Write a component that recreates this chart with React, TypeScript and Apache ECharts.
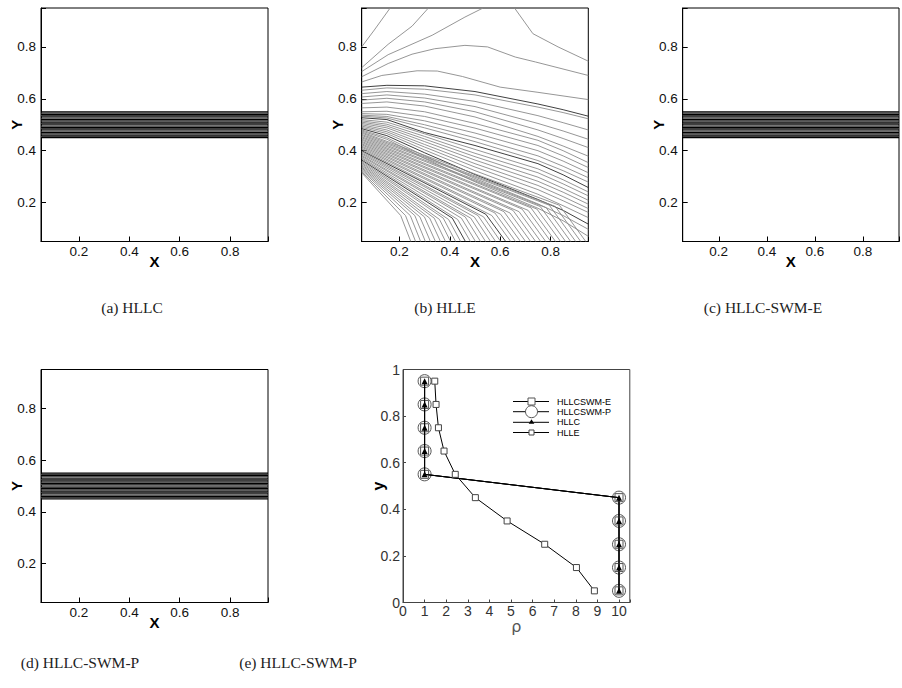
import { useEffect, useRef } from 'react';
import * as echarts from 'echarts';

// ---- data -------------------------------------------------------------

// tick labels of the unit-square contour panels
const unitTicks = [0.2, 0.4, 0.6, 0.8];

// density contour levels across the shear layer (HLLC, HLLC-SWM-E, HLLC-SWM-P)
const bandLevels = [
  0.45, 0.455, 0.46, 0.465, 0.47, 0.475, 0.48, 0.485, 0.49, 0.495, 0.5,
  0.505, 0.51, 0.515, 0.52, 0.525, 0.53, 0.535, 0.54, 0.545, 0.55,
];

// HLLE contours, upper family: explicit polylines [x, y]
const hlleUpper = [
  [[0.05, 0.8], [0.1, 0.865], [0.163, 0.95]],
  [[0.05, 0.72], [0.155, 0.81], [0.25, 0.88], [0.315, 0.95]],
  [[0.05, 0.705], [0.155, 0.77], [0.33, 0.845], [0.46, 0.915], [0.532, 0.95]],
  [[0.657, 0.95], [0.73, 0.851], [0.83, 0.8], [0.95, 0.745]],
  [[0.05, 0.685], [0.155, 0.736], [0.25, 0.772], [0.34, 0.793], [0.46, 0.806], [0.55, 0.8], [0.66, 0.761], [0.74, 0.742], [0.95, 0.69]],
  [[0.05, 0.665], [0.13, 0.69], [0.27, 0.708], [0.35, 0.707], [0.45, 0.686], [0.6, 0.645], [0.75, 0.625], [0.95, 0.597]],
];

// HLLE contours crossing the whole width: y sampled at hlleMidX
const hlleMidX = [0.05, 0.15, 0.3, 0.5, 0.75, 0.85, 0.95];
const hlleMidY = [
  [0.645, 0.652, 0.65, 0.628, 0.58, 0.558, 0.533],
  [0.633, 0.642, 0.637, 0.615, 0.568, 0.547, 0.523],
  [0.62, 0.628, 0.618, 0.59, 0.535, 0.508, 0.48],
  [0.607, 0.615, 0.603, 0.57, 0.505, 0.476, 0.444],
  [0.595, 0.602, 0.588, 0.55, 0.48, 0.447, 0.412],
  [0.582, 0.588, 0.572, 0.53, 0.455, 0.418, 0.379],
  [0.565, 0.568, 0.55, 0.505, 0.44, 0.4, 0.354],
  [0.55, 0.552, 0.532, 0.487, 0.42, 0.38, 0.335],
  [0.543, 0.54, 0.515, 0.468, 0.4, 0.36, 0.315],
  [0.537, 0.532, 0.5, 0.45, 0.38, 0.34, 0.296],
  [0.533, 0.526, 0.488, 0.435, 0.362, 0.323, 0.279],
  [0.527, 0.52, 0.47, 0.42, 0.35, 0.307, 0.258],
  [0.52, 0.51, 0.465, 0.405, 0.33, 0.288, 0.241],
  [0.515, 0.502, 0.455, 0.39, 0.315, 0.272, 0.226],
  [0.51, 0.495, 0.445, 0.377, 0.298, 0.255, 0.209],
  [0.505, 0.488, 0.435, 0.364, 0.282, 0.24, 0.194],
  [0.5, 0.48, 0.424, 0.35, 0.266, 0.223, 0.177],
  [0.495, 0.473, 0.414, 0.337, 0.25, 0.207, 0.162],
  [0.49, 0.466, 0.403, 0.323, 0.232, 0.188, 0.142],
  [0.485, 0.458, 0.392, 0.308, 0.212, 0.17, 0.117],
  [0.48, 0.45, 0.38, 0.293, 0.195, 0.15, 0.097],
  [0.476, 0.444, 0.37, 0.28, 0.178, 0.13, 0.07],
];

// HLLE contours fanning down to the bottom edge: start on the left edge,
// steepen at a kink point, end on the bottom edge
const hlleFanStartY = [
  0.472, 0.468, 0.463, 0.459, 0.454, 0.45, 0.445, 0.441, 0.436, 0.432, 0.427, 0.423,
  0.418, 0.414, 0.409, 0.405, 0.4, 0.396, 0.391, 0.387, 0.382, 0.378, 0.373, 0.369,
  0.364, 0.36, 0.355, 0.351, 0.346, 0.342, 0.337, 0.333, 0.328, 0.324, 0.319, 0.315,
];
const hlleFanKinkX = [
  0.835, 0.819, 0.795, 0.783, 0.759, 0.746, 0.722, 0.711, 0.687, 0.675, 0.651, 0.639,
  0.615, 0.602, 0.579, 0.567, 0.543, 0.534, 0.512, 0.497, 0.483, 0.461, 0.446, 0.431,
  0.41, 0.395, 0.374, 0.359, 0.338, 0.32, 0.299, 0.281, 0.261, 0.243, 0.224, 0.205,
];
const hlleFanKinkY = [
  0.19, 0.185, 0.19, 0.18, 0.185, 0.175, 0.18, 0.17, 0.175, 0.165, 0.17, 0.16,
  0.165, 0.155, 0.16, 0.15, 0.155, 0.145, 0.15, 0.145, 0.14, 0.145, 0.14, 0.135,
  0.14, 0.135, 0.14, 0.135, 0.14, 0.14, 0.145, 0.145, 0.15, 0.15, 0.15, 0.15,
];
const hlleFanBottomX = [
  0.94, 0.92, 0.9, 0.88, 0.86, 0.84, 0.82, 0.801, 0.781, 0.761, 0.741, 0.721,
  0.701, 0.681, 0.661, 0.642, 0.622, 0.602, 0.582, 0.562, 0.542, 0.522, 0.502, 0.482,
  0.462, 0.443, 0.423, 0.403, 0.383, 0.363, 0.343, 0.323, 0.303, 0.284, 0.264, 0.245,
];

// density profile along y (panel e)
const profileY = [0.05, 0.15, 0.25, 0.35, 0.45, 0.55, 0.65, 0.75, 0.85, 0.95];
const rhoSwmE = [10, 10, 10, 10, 10, 1, 1, 1, 1, 1];
const rhoSwmP = [10, 10, 10, 10, 10, 1, 1, 1, 1, 1];
const rhoHllc = [10, 10, 10, 10, 10, 1, 1, 1, 1, 1];
const rhoHlle = [8.86, 8.03, 6.56, 4.82, 3.35, 2.42, 1.9, 1.64, 1.53, 1.47];

const captions = [
  { text: '(a) HLLC', x: 132, y: 307 },
  { text: '(b) HLLE', x: 445, y: 307 },
  { text: '(c) HLLC-SWM-E', x: 763, y: 307 },
  { text: '(d) HLLC-SWM-P', x: 80, y: 662 },
  { text: '(e) HLLC-SWM-P', x: 298, y: 662 },
];

// ---- layout & styling --------------------------------------------------

const SANS = '"Liberation Sans", Arial, Helvetica, sans-serif';
const SERIF = '"Liberation Serif", "DejaVu Serif", serif';

const boxes = [
  { left: 41, top: 8, width: 227, height: 233.5 },
  { left: 361.7, top: 8, width: 226.6, height: 233.5 },
  { left: 682.7, top: 8, width: 227, height: 233.5 },
  { left: 41, top: 369.5, width: 227, height: 233 },
  { left: 403, top: 369.5, width: 226.8, height: 233 },
];

const unitFmt = (v: number) =>
  unitTicks.some((t) => Math.abs(t - v) < 1e-6) ? v.toFixed(1) : '';

function unitAxes(i: number) {
  const nameStyle = { fontFamily: SANS, fontWeight: 'bold', fontSize: 15, color: '#000' };
  const labelStyle = { color: '#111', fontSize: 13.5, fontFamily: SANS };
  const common = {
    gridIndex: i,
    type: 'value',
    min: 0.05,
    max: 0.95,
    splitNumber: 5,
    axisLine: { show: true, onZero: false, lineStyle: { color: '#000', width: 1 } },
    axisTick: { show: true, inside: true, length: 5, lineStyle: { color: '#000' } },
    splitLine: { show: false },
    nameLocation: 'middle',
    nameMoveOverlap: false,
    nameTextStyle: nameStyle,
  };
  const x = { ...common, axisLabel: { ...labelStyle, formatter: unitFmt, margin: 3 }, name: 'X', nameGap: 12 };
  const y = { ...common, axisLabel: { ...labelStyle, formatter: unitFmt, margin: 5 }, name: 'Y', nameGap: 17 };
  return { x, y };
}

function contour(i: number, data: number[][], color: string, width = 1) {
  return {
    type: 'line',
    xAxisIndex: i,
    yAxisIndex: i,
    data,
    symbol: 'none',
    showSymbol: false,
    clip: true,
    silent: true,
    lineStyle: { color, width },
    z: 2,
  };
}

function buildOption() {
  const xAxes: any[] = [];
  const yAxes: any[] = [];
  for (let i = 0; i < 4; i++) {
    const a = unitAxes(i);
    xAxes.push(a.x);
    yAxes.push(a.y);
  }
  // density profile axes
  xAxes.push({
    gridIndex: 4,
    type: 'value',
    min: 0,
    max: 10.5,
    interval: 1,
    axisLine: { show: true, onZero: false, lineStyle: { color: '#444' } },
    axisTick: { show: true, inside: true, length: 3, lineStyle: { color: '#444' } },
    axisLabel: {
      color: '#333',
      fontSize: 14,
      fontFamily: SANS,
      margin: 1,
      formatter: (v: number) => (Number.isInteger(v) ? String(v) : ''),
    },
    splitLine: { show: false },
    name: 'ρ',
    nameLocation: 'middle',
    nameMoveOverlap: false,
    nameGap: 16,
    nameTextStyle: { color: '#555', fontSize: 16, fontFamily: '"DejaVu Sans", sans-serif' },
  });
  yAxes.push({
    gridIndex: 4,
    type: 'value',
    min: 0,
    max: 1,
    interval: 0.2,
    axisLine: { show: true, onZero: false, lineStyle: { color: '#444' } },
    axisTick: { show: true, inside: true, length: 3, lineStyle: { color: '#444' } },
    axisLabel: { color: '#333', fontSize: 14, fontFamily: SANS, margin: 3 },
    splitLine: { show: false },
    name: 'y',
    nameLocation: 'middle',
    nameMoveOverlap: false,
    nameGap: 17,
    nameTextStyle: { color: '#000', fontSize: 16, fontWeight: 'bold', fontFamily: SANS },
  });

  const series: any[] = [];

  // sharp shear layer in panels a, c, d
  for (const i of [0, 2, 3]) {
    bandLevels.forEach((lv, j) => {
      series.push(contour(i, [[0.05, lv], [0.95, lv]], j % 2 === 0 ? '#000' : '#3c3c3c', 1.2));
    });
  }

  // diffused HLLE contours in panel b
  const grey = '#8a8a8a';
  const dark = '#2a2a2a';
  hlleUpper.forEach((pts) => series.push(contour(1, pts, grey, 0.9)));
  hlleMidY.forEach((ys, k) => {
    const pts = ys.map((y, n) => [hlleMidX[n], y]);
    series.push(contour(1, pts, k === 0 || k === 11 || k === 19 ? dark : grey, 0.9));
  });
  hlleFanStartY.forEach((y0, k) => {
    const pts = [
      [0.05, y0],
      [hlleFanKinkX[k], hlleFanKinkY[k]],
      [hlleFanBottomX[k], 0.05],
    ];
    series.push(contour(1, pts, k === 16 || k === 24 ? dark : grey, 0.9));
  });

  // density profiles in panel e
  const prof = (name: string, rho: number[], symbol: string, size: number, style: any, z: number) => ({
    name,
    type: 'line',
    xAxisIndex: 4,
    yAxisIndex: 4,
    data: profileY.map((y, n) => [rho[n], y]),
    symbol,
    symbolSize: size,
    showSymbol: true,
    clip: false,
    silent: true,
    lineStyle: { color: '#000', width: 1 },
    itemStyle: style,
    z,
  });
  series.push(
    prof('HLLCSWM-P', rhoSwmP, 'circle', 13, { color: 'rgba(0,0,0,0)', borderColor: '#555', borderWidth: 1 }, 3),
    prof('HLLCSWM-E', rhoSwmE, 'rect', 8, { color: 'rgba(0,0,0,0)', borderColor: '#555', borderWidth: 1 }, 4),
    prof('HLLC', rhoHllc, 'triangle', 6, { color: '#000' }, 5),
    prof('HLLE', rhoHlle, 'rect', 6, { color: '#fff', borderColor: '#444', borderWidth: 1 }, 6),
  );

  // legend of panel e
  const lx1 = 513;
  const lx2 = 549;
  const cx = 531.5;
  const rows = [401.5, 411.7, 422.3, 432.5];
  const names = ['HLLCSWM-E', 'HLLCSWM-P', 'HLLC', 'HLLE'];
  const legend: any[] = [];
  rows.forEach((ry, k) => {
    legend.push({ type: 'line', z: 100, shape: { x1: lx1, y1: ry, x2: lx2, y2: ry }, style: { stroke: '#000', lineWidth: 1 } });
    legend.push({
      type: 'text',
      z: 100,
      x: 557,
      y: ry,
      style: { text: names[k], fill: '#000', font: `9px ${SANS}`, align: 'left', verticalAlign: 'middle' },
    });
  });
  legend.push(
    { type: 'rect', z: 101, shape: { x: cx - 3.5, y: rows[0] - 3.5, width: 7, height: 7 }, style: { fill: '#fff', stroke: '#555', lineWidth: 1 } },
    { type: 'circle', z: 101, shape: { cx, cy: rows[1], r: 6 }, style: { fill: '#fff', stroke: '#555', lineWidth: 1 } },
    { type: 'polygon', z: 101, shape: { points: [[cx, rows[2] - 3], [cx + 2.8, rows[2] + 1.5], [cx - 2.8, rows[2] + 1.5]] }, style: { fill: '#000' } },
    { type: 'rect', z: 101, shape: { x: cx - 2.5, y: rows[3] - 2.5, width: 5, height: 5 }, style: { fill: '#fff', stroke: '#444', lineWidth: 1 } },
  );

  const captionEls = captions.map((c) => ({
    type: 'text',
    x: c.x,
    y: c.y,
    style: { text: c.text, fill: '#222', font: `15.5px ${SERIF}`, align: 'center', verticalAlign: 'middle' },
  }));

  return {
    animation: false,
    backgroundColor: '#fff',
    textStyle: { fontFamily: SANS },
    grid: boxes.map((b, i) => ({
      ...b,
      show: true,
      borderColor: i === 4 ? '#444' : '#000',
      borderWidth: 1,
      containLabel: false,
    })),
    xAxis: xAxes,
    yAxis: yAxes,
    series,
    graphic: [...legend, ...captionEls],
  };
}

export default function App() {
  const ref = useRef<HTMLDivElement>(null);
  useEffect(() => {
    if (!ref.current) return;
    const chart = echarts.init(ref.current, null, { renderer: 'svg' });
    chart.setOption(buildOption() as any);
    return () => chart.dispose();
  }, []);
  return (
    <div
      ref={ref}
      style={{ position: 'fixed', left: 0, top: 0, width: 902, height: 688, background: '#fff', overflow: 'hidden' }}
    />
  );
}
